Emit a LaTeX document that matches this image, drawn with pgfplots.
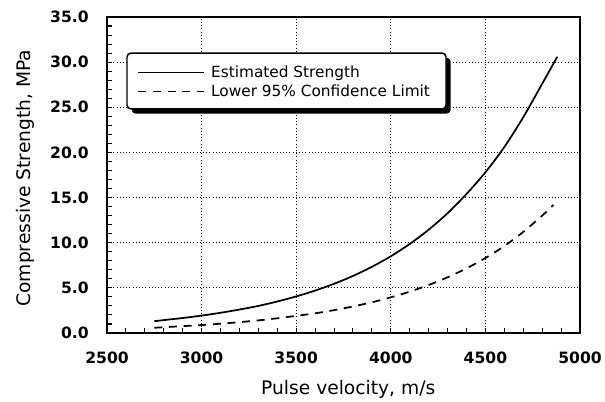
\documentclass[border=0pt]{standalone}
\usepackage{fontspec}
\setmainfont{DejaVu Sans}
\usepackage{pgfplots}
\pgfplotsset{compat=1.18}
\usetikzlibrary{shadows}

\begin{document}
\begin{tikzpicture}
\useasboundingbox (-80.25pt,-51pt) rectangle (373.5pt,249.75pt);
\begin{axis}[
  scale only axis,
  width=354.75pt, height=237pt,
  at={(0,0)}, anchor=south west,
  xmin=2500, xmax=5000,
  ymin=0, ymax=35,
  xtick={2500,3000,...,5000},
  ytick={0,5,...,35},
  minor x tick num=4,
  minor y tick num=4,
  tick pos=left,
  tick align=inside,
  major tick length=3.5pt,
  minor tick length=3.5pt,
  tick style={black, line width=0.8pt},
  axis line style={line width=1pt},
  grid=major,
  grid style={dotted, black, line width=0.6pt},
  /pgf/number format/assume math mode=true,
  tick label style={font=\fontsize{11.7}{14}\selectfont\bfseries},
  xticklabel style={inner sep=0pt, anchor=north, yshift=-14pt,
                    /pgf/number format/1000 sep={}},
  yticklabel style={inner sep=0pt, anchor=east, xshift=-13.5pt,
                    /pgf/number format/.cd, fixed, fixed zerofill, precision=1},
  xlabel={Pulse velocity, m/s},
  ylabel={Compressive Strength, MPa},
  label style={font=\fontsize{14}{16}\selectfont},
  xlabel style={at={(axis description cs:0.51,-0.196)}, anchor=base},
  ylabel style={at={(axis description cs:-0.1615,0.49)}, anchor=base, rotate=0},
  legend cell align=left,
  legend style={at={(rel axis cs:0.0641,0.856)}, anchor=north west,
                font=\fontsize{11.5}{13}\selectfont,
                draw=none, fill=none,
                inner xsep=0pt, inner ysep=0pt, row sep=0pt},
  legend image code/.code={\draw[#1, line width=1pt] (0pt,0pt) -- (49.5pt,0pt);
                           \path (52pt,0pt);},
]
  % legend frame with its heavy shadow
  \draw[line width=1.1pt, rounded corners=3pt, fill=white,
        drop shadow={shadow xshift=3.5pt, shadow yshift=-3.5pt,
                     fill=black, opacity=1}]
    (rel axis cs:0.0423,0.886) rectangle (rel axis cs:0.7167,0.709);

  % estimated strength
  \addplot[black, line width=1.3pt, smooth] coordinates {
    (2750,1.3)(2800,1.43)(2900,1.66)(3000,1.93)(3100,2.24)(3200,2.6)
    (3300,3.0)(3400,3.49)(3500,4.05)(3600,4.7)(3700,5.45)(3800,6.32)
    (3900,7.33)(4000,8.5)(4100,9.86)(4200,11.44)(4300,13.27)(4400,15.4)
    (4500,17.8)(4600,20.6)(4700,23.9)(4800,27.6)(4880,30.6)
  };
  \addlegendentry{Estimated Strength}

  % lower 95% confidence limit
  \addplot[black, line width=1.3pt, smooth, dash pattern=on 6pt off 5pt] coordinates {
    (2750,0.58)(2800,0.64)(2900,0.76)(3000,0.88)(3100,1.03)(3200,1.2)
    (3300,1.4)(3400,1.63)(3500,1.9)(3600,2.18)(3700,2.53)(3800,2.94)
    (3900,3.4)(4000,3.95)(4100,4.58)(4200,5.32)(4300,6.17)(4400,7.16)
    (4500,8.3)(4600,9.63)(4700,11.2)(4800,13.0)(4860,14.2)
  };
  \addlegendentry{Lower 95\% Confidence Limit}
\end{axis}
\end{tikzpicture}
\end{document}
